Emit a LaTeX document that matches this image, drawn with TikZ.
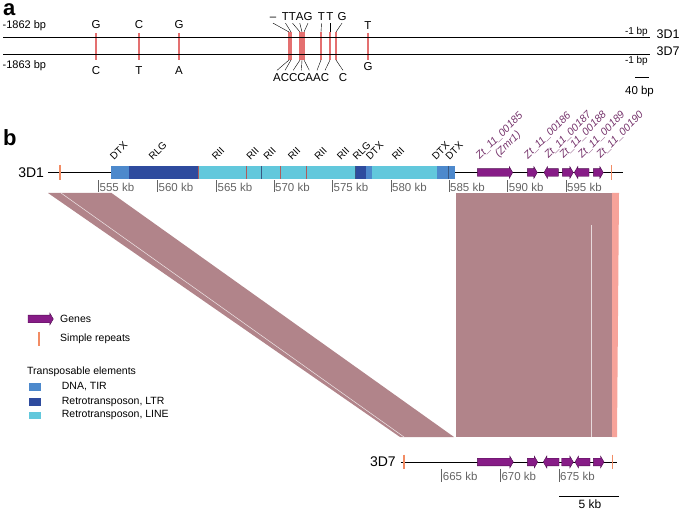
\documentclass[tikz,border=0pt]{standalone}
\usepackage{fontspec}
\setmainfont{Liberation Sans}
\setsansfont{Liberation Sans}
\usetikzlibrary{positioning}

\definecolor{snpred}{RGB}{228,112,112}
\definecolor{tircol}{RGB}{77,137,204}
\definecolor{ltrcol}{RGB}{46,75,158}
\definecolor{linecol}{RGB}{98,200,220}
\definecolor{sepred}{RGB}{176,92,92}
\definecolor{sepdark}{RGB}{58,88,130}
\definecolor{genepurple}{RGB}{135,28,135}
\definecolor{genetext}{RGB}{118,52,108}
\definecolor{repeatorange}{RGB}{242,140,100}
\definecolor{bandrose}{RGB}{177,132,138}
\definecolor{bandsalmon}{RGB}{247,163,154}
\definecolor{tickgray}{RGB}{100,100,100}

\tikzset{
    panel/.style={font=\fontsize{22}{24}\selectfont\bfseries, inner sep=0pt},
    base/.style={font=\fontsize{11.5}{13}\selectfont, inner sep=0pt, text height=8.3pt, text depth=0pt},
    poslab/.style={font=\fontsize{11}{13}\selectfont, inner sep=0pt},
    endlab/.style={font=\fontsize{10}{12}\selectfont, inner sep=0pt},
    seqname/.style={font=\fontsize{12.5}{14}\selectfont, inner sep=0pt},
    trackname/.style={font=\fontsize{14}{16}\selectfont, inner sep=0pt, outer sep=4pt, anchor=east},
    snp/.style={snpred, line width=1.1pt},
    seqline/.style={line width=1pt},
    leader/.style={line width=0.4pt},
    track/.style={line width=0.8pt},
    simplerep/.style={repeatorange, line width=1.2pt},
    tick/.style={tickgray, line width=0.7pt},
    ticklab/.style={font=\fontsize{11.5}{13}\selectfont, text=tickgray, anchor=west, inner sep=1pt},
    telab/.style={rotate=45, anchor=south west, inner sep=0pt, font=\fontsize{10}{11}\selectfont},
    genelab/.style={rotate=45, anchor=south west, inner sep=0pt, text=genetext,
        font=\fontsize{10.5}{12}\selectfont\itshape, align=center},
    gene/.style={fill=genepurple, draw=genepurple!60!black, line width=0.4pt},
    band/.style={fill=bandrose},
    legtext/.style={anchor=west, inner sep=0pt, font=\fontsize{10.5}{12}\selectfont}
}

% gene arrows: start, end, y
\newcommand{\fwdgene}[3]{%
  \filldraw[gene] (#1,#3-3.8) -- (#2-3.5,#3-3.8) -- (#2-3.5,#3-6) -- (#2,#3) -- (#2-3.5,#3+6) -- (#2-3.5,#3+3.8) -- (#1,#3+3.8) -- cycle;}
\newcommand{\revgene}[3]{%
  \filldraw[gene] (#2,#3-3.8) -- (#1+3.5,#3-3.8) -- (#1+3.5,#3-6) -- (#1,#3) -- (#1+3.5,#3+6) -- (#1+3.5,#3+3.8) -- (#2,#3+3.8) -- cycle;}

\begin{document}
\begin{tikzpicture}[x=1pt, y=-1pt]
    \useasboundingbox (0,0) rectangle (685,510);

    % ---------------- panel a ----------------
    \node[panel, anchor=base west] (pa) at (3,16) {a};

    % variant positions
    \foreach \x in {96,139,179,368}
        \draw[snp] (\x,33) -- (\x,60);
    \foreach \x [count=\i] in {289,291,300,302,304,321,330,336} {
        \draw[snp] (\x,32) -- (\x,60);
        \coordinate (bt\i) at (\x,32);
        \coordinate (bb\i) at (\x,60);
    }

    % aligned sequences
    \draw[seqline] (3,38) -- (650,38);
    \draw[seqline] (3,55) -- (650,55);

    % single variants
    \node[base] (s1t) at (96,24) {G};
    \node[base] (s1b) at (96,70.5) {C};
    \node[base] (s2t) at (139,24) {C};
    \node[base] (s2b) at (139,70.5) {T};
    \node[base] (s3t) at (179,24) {G};
    \node[base] (s3b) at (179,70.5) {A};
    \node[base] (s4t) at (368,25.5) {T};
    \node[base] (s4b) at (368,66) {G};

    % clustered variants with leader lines
    \foreach \x/\b [count=\i] in {273/\textendash,285.5/T,292.5/T,299.8/A,308/G,321.5/T,330/T,342/G} {
        \node[base, outer sep=3pt] (ct\i) at (\x,16) {\b};
        \draw[leader] (ct\i.south) -- (bt\i);
    }
    \foreach \x/\b [count=\i] in {277/A,285/C,293.2/C,301.4/C,309.3/A,317/A,325/C,343/C} {
        \node[base, outer sep=3pt] (cb\i) at (\x,77.5) {\b};
        \draw[leader] (bb\i) -- (cb\i.north);
    }

    % sequence labels
    \node[poslab, anchor=west] (l1862) at (2.5,26) {-1862 bp};
    \node[poslab, anchor=west] (l1863) at (2.5,65.3) {-1863 bp};
    \node[endlab, anchor=east] (e3d1) at (648,31.5) {-1 bp};
    \node[endlab, anchor=east] (e3d7) at (648,60.5) {-1 bp};
    \node[seqname, anchor=west] (n3d1) at (656.5,34) {3D1};
    \node[seqname, anchor=west] (n3d7) at (656.5,51.7) {3D7};

    % scale bar
    \coordinate (sa1) at (635,77.3);
    \coordinate (sa2) at (649.3,77.3);
    \draw[line width=0.9pt] (sa1) -- (sa2);
    \node[poslab, font=\fontsize{11.5}{13}\selectfont] (sa) at (639.5,91.5) {40 bp};

    % ---------------- panel b ----------------
    \node[panel, anchor=base west] (pb) at (3,146) {b};

    % synteny bands
    \fill[band] (48,193) -- (111.5,193) -- (454,437) -- (400,437) -- cycle;
    \draw[white, line width=0.5pt, opacity=0.8] (61,193) -- (404,437);
    \fill[band] (456,193) rectangle (612,437);
    \draw[white, line width=0.4pt, opacity=0.7] (590.7,225) -- (590.7,437);
    \fill[bandsalmon] (612,193) -- (619,193) -- (617,437) -- (612,437) -- cycle;

    % 3D1 track
    \node[trackname] (t3d1) at (48,172.5) {3D1};
    \coordinate (d1end) at (623,172.5);
    \draw[track] (t3d1.east) -- (d1end);

    % transposable elements
    \foreach \a/\b/\c in {111/129.3/tircol, 129.3/198.3/ltrcol, 198.3/355/linecol,
        355/366/ltrcol, 366/371.7/tircol, 371.7/436.7/linecol, 436.7/455/tircol}
        \fill[\c] (\a,166) rectangle (\b,179.5);
    \foreach \x/\c in {198.3/sepred, 246.7/sepred, 261.7/sepdark, 280/sepred,
        306.7/sepred, 355/sepdark, 448.3/sepdark}
        \draw[\c, line width=0.6pt] (\x,166) -- (\x,179.5);
    \foreach \x/\lab [count=\i] in {114/DTX, 153/RLG, 216/RII, 250.5/RII, 267.5/RII,
        292/RII, 318.5/RII, 341/RII, 357/RLG, 370/DTX, 396/RII, 436/DTX, 449.5/DTX}
        \node[telab] (te\i) at (\x,160.5) {\lab};

    % simple repeats
    \draw[simplerep] (60,165) -- (60,180);
    \draw[simplerep] (611.7,165.5) -- (611.7,180.5);

    % genes
    \fwdgene{477.3}{512.7}{172.5}
    \fwdgene{527.3}{537.3}{172.5}
    \revgene{544}{558.3}{172.5}
    \fwdgene{562.3}{573.3}{172.5}
    \revgene{574.3}{589}{172.5}
    \fwdgene{593.3}{603.3}{172.5}
    \node[genelab] (g185) at (490,170) {Zt\_11\_00185\\(Zmr1)};
    \node[genelab] (g186) at (529,160.5) {Zt\_11\_00186};
    \node[genelab] (g187) at (549.5,160) {Zt\_11\_00187};
    \node[genelab] (g188) at (564.5,160) {Zt\_11\_00188};
    \node[genelab] (g189) at (583,160) {Zt\_11\_00189};
    \node[genelab] (g190) at (601.5,160) {Zt\_11\_00190};

    % 3D1 coordinates
    \foreach \kb/\x in {555/98.5, 560/157.5, 565/216.5, 570/274, 575/332.5,
        580/391, 585/449, 590/507.7, 595/566} {
        \draw[tick] (\x,180.5) -- (\x,192);
        \node[ticklab] (k\kb) at (\x,187) {\kb\ kb};
    }

    % 3D7 track
    \node[trackname, outer sep=5pt] (t3d7) at (400.7,462) {3D7};
    \coordinate (d7end) at (617,462);
    \draw[track] (t3d7.east) -- (d7end);
    \draw[simplerep] (404,454.5) -- (404,468.5);
    \draw[simplerep] (612.3,454.5) -- (612.3,468.5);
    \fwdgene{477.3}{513.3}{462}
    \fwdgene{527.3}{537.7}{462}
    \revgene{543.3}{559}{462}
    \fwdgene{561.7}{573.3}{462}
    \revgene{575}{590}{462}
    \fwdgene{593.3}{604}{462}
    \foreach \kb/\x in {665/441.7, 670/500.3, 675/559} {
        \draw[tick] (\x,468.5) -- (\x,481.5);
        \node[ticklab] (k\kb) at (\x,476) {\kb\ kb};
    }

    % scale bar
    \coordinate (sb1) at (559,496);
    \coordinate (sb2) at (619.3,496);
    \draw[line width=0.9pt] (sb1) -- (sb2);
    \node[poslab, font=\fontsize{12}{14}\selectfont] (sb) at (590,504.5) {5 kb};

    % legend
    \fwdgene{28}{53.3}{319}
    \node[legtext] (lgene) at (60,318.5) {Genes};
    \draw[simplerep] (39,331.7) -- (39,345.7);
    \node[legtext] (lrep) at (60,339) {Simple repeats};
    \node[legtext] (lte) at (27,371.5) {Transposable elements};
    \fill[tircol] (29.3,383.3) rectangle (40.7,390.7);
    \fill[ltrcol] (29.3,398.3) rectangle (40.7,405.7);
    \fill[linecol] (29.3,411.7) rectangle (40.7,419);
    \node[legtext] (ltir) at (61.7,386.7) {DNA, TIR};
    \node[legtext] (lltr) at (61.7,401.8) {Retrotransposon, LTR};
    \node[legtext] (lline) at (61.7,414.5) {Retrotransposon, LINE};
\end{tikzpicture}
\end{document}
